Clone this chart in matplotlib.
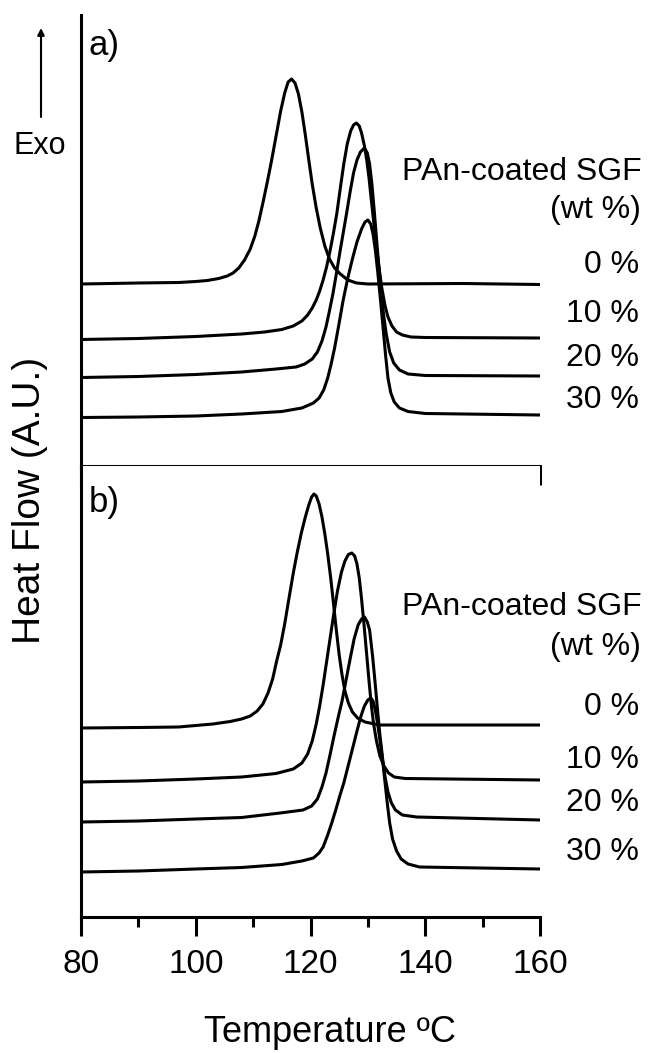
import matplotlib
matplotlib.use("Agg")
import matplotlib.pyplot as plt
from matplotlib.ticker import MultipleLocator

plt.rcParams['font.family'] = ['Liberation Sans', 'DejaVu Sans']

W, H = 648, 1053

loadings = ["0 %", "10 %", "20 %", "30 %"]
xticks = [80, 100, 120, 140, 160]

# ---- panel a) : temperature (C) and heat flow (A.U.)
temp_a_0 = [80, 90, 97, 100, 102, 104, 105.5, 106.5, 107.5, 108.5, 109.5, 110.3, 111, 111.7,
            112.4, 113.2, 114, 114.8, 115.5, 116.1, 116.7, 117.3, 117.9, 118.5, 119.1, 119.7,
            120.3, 121, 121.7, 122.5, 123.3, 124.2, 125.2, 126.5, 128, 130, 146.6, 160]
hf_a_0 = [1.82, 1.83, 1.835, 1.845, 1.855, 1.875, 1.90, 1.93, 1.98, 2.06, 2.17, 2.30, 2.45, 2.63,
          2.82, 3.05, 3.30, 3.55, 3.73, 3.84, 3.87, 3.83, 3.72, 3.54, 3.31, 3.06,
          2.82, 2.58, 2.38, 2.20, 2.07, 1.98, 1.92, 1.86, 1.83, 1.82, 1.825, 1.815]

temp_a_10 = [80, 90, 100, 108, 112, 115, 117, 118.5, 119.5, 120.3, 121, 121.6, 122.2, 122.8,
             123.4, 124, 124.6, 125.2, 125.8, 126.4, 127, 127.5, 128, 128.5, 128.9, 129.4,
             129.8, 130.2, 130.6, 131, 131.5, 132, 132.4, 133, 133.5, 134.2, 135, 136, 137.5,
             140, 160]
hf_a_10 = [1.265, 1.275, 1.295, 1.32, 1.34, 1.365, 1.40, 1.45, 1.51, 1.58, 1.66, 1.75, 1.86, 1.99,
           2.15, 2.33, 2.53, 2.78, 3.02, 3.22, 3.35, 3.41, 3.43, 3.40, 3.33, 3.20,
           3.06, 2.88, 2.66, 2.45, 2.19, 1.96, 1.79, 1.60, 1.49, 1.40, 1.34, 1.31, 1.29,
           1.285, 1.28]

temp_a_20 = [80, 90, 100, 108, 114, 117.5, 119, 120.3, 121.2, 122, 122.7, 123.3, 123.9, 124.5,
             125.1, 125.7, 126.3, 126.9, 127.5, 128.1, 128.7, 129.4, 129.9, 130.3, 130.7, 131.1,
             131.5, 131.9, 132.3, 132.7, 133.2, 133.8, 134.5, 135.5, 137, 140, 160]
hf_a_20 = [0.885, 0.895, 0.915, 0.94, 0.97, 0.99, 1.02, 1.07, 1.14, 1.25, 1.39, 1.55, 1.72, 1.92,
           2.13, 2.33, 2.53, 2.74, 2.93, 3.06, 3.14, 3.18, 3.13, 3.02, 2.82, 2.56,
           2.28, 2.00, 1.76, 1.53, 1.32, 1.14, 1.03, 0.96, 0.92, 0.905, 0.90]

temp_a_30 = [80, 90, 100, 108, 115, 118.5, 120.5, 121.5, 122.3, 123, 123.6, 124.2, 124.9, 125.7,
             126.5, 127.3, 128.1, 128.9, 129.5, 130, 130.5, 130.9, 131.3, 131.7, 132.2, 132.7,
             133.1, 133.5, 134, 134.6, 135.5, 137, 140, 160]
hf_a_30 = [0.485, 0.49, 0.50, 0.52, 0.545, 0.58, 0.63, 0.68, 0.76, 0.88, 1.02, 1.18, 1.40, 1.66,
           1.88, 2.07, 2.24, 2.37, 2.44, 2.46, 2.42, 2.32, 2.16, 1.95, 1.66, 1.35,
           1.10, 0.88, 0.73, 0.64, 0.58, 0.545, 0.525, 0.51]

# ---- panel b)
temp_b_0 = [80, 90, 97, 103, 106, 108, 109.5, 110.7, 111.7, 112.6, 113.4, 114.1, 114.8, 115.5,
            116.2, 117, 117.7, 118.4, 119.1, 119.7, 120.2, 120.6, 121, 121.5, 122, 122.5, 123,
            123.5, 124, 124.5, 125, 125.5, 126, 126.6, 127.3, 128.2, 129.5, 132, 160]
hf_b_0 = [1.89, 1.895, 1.90, 1.93, 1.955, 1.98, 2.01, 2.06, 2.13, 2.24, 2.38, 2.56, 2.72, 2.93,
          3.17, 3.44, 3.65, 3.84, 4.00, 4.12, 4.20, 4.23, 4.21, 4.13, 4.00, 3.83, 3.63,
          3.40, 3.14, 2.87, 2.62, 2.42, 2.26, 2.14, 2.05, 1.99, 1.95, 1.92, 1.92]

temp_b_10 = [80, 90, 100, 108, 114, 117, 118.5, 119.5, 120.3, 121, 121.6, 122.2, 122.8, 123.4,
             124, 124.7, 125.4, 126, 126.6, 127.2, 127.7, 128.1, 128.5, 128.9, 129.3, 129.8,
             130.2, 130.6, 131, 131.5, 132.1, 132.8, 133.6, 134.6, 136.5, 160]
hf_b_10 = [1.35, 1.36, 1.38, 1.40, 1.435, 1.48, 1.54, 1.63, 1.76, 1.93, 2.11, 2.32, 2.55, 2.78,
           3.01, 3.26, 3.45, 3.56, 3.625, 3.64, 3.61, 3.53, 3.39, 3.18, 2.94, 2.62,
           2.36, 2.12, 1.93, 1.76, 1.61, 1.51, 1.44, 1.40, 1.385, 1.37]

temp_b_20 = [80, 90, 100, 108, 114.7, 118.7, 120.2, 121.2, 122, 122.7, 123.4, 124.1, 124.8, 125.5,
             126.2, 126.9, 127.6, 128.3, 128.9, 129.4, 129.9, 130.3, 130.8, 131.2, 131.7, 132.1,
             132.6, 133, 133.5, 134.1, 134.8, 136, 138.5, 160]
hf_b_20 = [0.95, 0.96, 0.98, 0.995, 1.04, 1.07, 1.11, 1.18, 1.30, 1.44, 1.62, 1.81, 1.99, 2.16,
           2.37, 2.58, 2.78, 2.92, 2.98, 3.00, 2.95, 2.87, 2.62, 2.38, 2.06, 1.82,
           1.57, 1.40, 1.25, 1.14, 1.07, 1.02, 1.00, 0.97]

temp_b_30 = [80, 90, 100, 108, 115, 118.5, 120.5, 121.5, 122.2, 123, 123.7, 124.4, 125.1, 125.8,
             126.6, 127.4, 128.1, 128.8, 129.4, 130, 130.5, 130.9, 131.3, 131.7, 132.1, 132.6,
             133, 133.4, 133.8, 134.3, 135, 135.8, 137, 139, 160]
hf_b_30 = [0.45, 0.46, 0.48, 0.495, 0.525, 0.56, 0.59, 0.64, 0.70, 0.82, 0.94, 1.07, 1.21, 1.34,
           1.52, 1.70, 1.86, 2.01, 2.11, 2.17, 2.19, 2.16, 2.07, 1.93, 1.77, 1.55,
           1.34, 1.13, 0.94, 0.78, 0.66, 0.58, 0.53, 0.50, 0.48]

curves_a = [(temp_a_0, hf_a_0), (temp_a_10, hf_a_10), (temp_a_20, hf_a_20), (temp_a_30, hf_a_30)]
curves_b = [(temp_b_0, hf_b_0), (temp_b_10, hf_b_10), (temp_b_20, hf_b_20), (temp_b_30, hf_b_30)]


def px(x, y):
    # figure fraction from pixel position (origin top-left)
    return x / W, 1 - y / H


fig = plt.figure(figsize=(W / 100, H / 100), dpi=100)
ax_a = fig.add_axes([81 / W, 1 - 466 / H, 459 / W, 451 / H])
ax_b = fig.add_axes([81 / W, 1 - 917 / H, 459 / W, 451 / H])

for ax, curves in ((ax_a, curves_a), (ax_b, curves_b)):
    for t, hf in curves:
        ax.plot(t, hf, color='black', lw=2.2, solid_joinstyle='round')
    ax.set_xlim(80, 160)
    ax.set_ylim(0, 4.51)
    ax.set_yticks([])
    ax.spines['top'].set_visible(False)
    ax.spines['right'].set_visible(False)
    ax.spines['left'].set_linewidth(2.2)
    ax.spines['bottom'].set_linewidth(2.2)
    ax.set_xticks(xticks)
    ax.xaxis.set_minor_locator(MultipleLocator(10))
    ax.tick_params(axis='x', which='major', direction='out', length=14, width=2.2,
                   labelsize=24, pad=9)
    ax.tick_params(axis='x', which='minor', direction='out', length=7, width=2.2)

ax_a.tick_params(axis='x', labelbottom=False)

fig.text(*px(330, 1042), 'Temperature ºC', ha='center', va='baseline', fontsize=26)
fig.text(*px(30, 500), 'Heat Flow (A.U.)', rotation=90, ha='center', va='center', fontsize=28)

# Exo arrow
ax_a.annotate('', xy=px(41, 28), xytext=px(41, 117), xycoords='figure fraction',
              textcoords='figure fraction',
              arrowprops=dict(arrowstyle='-|>', lw=1.5, color='black', mutation_scale=10,
                              shrinkA=0, shrinkB=0))
fig.text(*px(40, 154), 'Exo', ha='center', va='baseline', fontsize=22)

fig.text(*px(89, 55), 'a)', ha='left', va='baseline', fontsize=25)
fig.text(*px(89, 512), 'b)', ha='left', va='baseline', fontsize=25)

# curve labels
labels_a_y = [273, 322, 366, 408]
labels_b_y = [715, 768, 811, 860]
for head_y, wt_y, ys in ((180, 218, labels_a_y), (615, 655, labels_b_y)):
    fig.text(*px(642, head_y), 'PAn-coated SGF', ha='right', va='baseline', fontsize=23)
    fig.text(*px(641, wt_y), '(wt %)', ha='right', va='baseline', fontsize=23)
    for lab, y in zip(loadings, ys):
        fig.text(*px(639, y), lab, ha='right', va='baseline', fontsize=23)

fig.savefig('out.png', dpi=100)
